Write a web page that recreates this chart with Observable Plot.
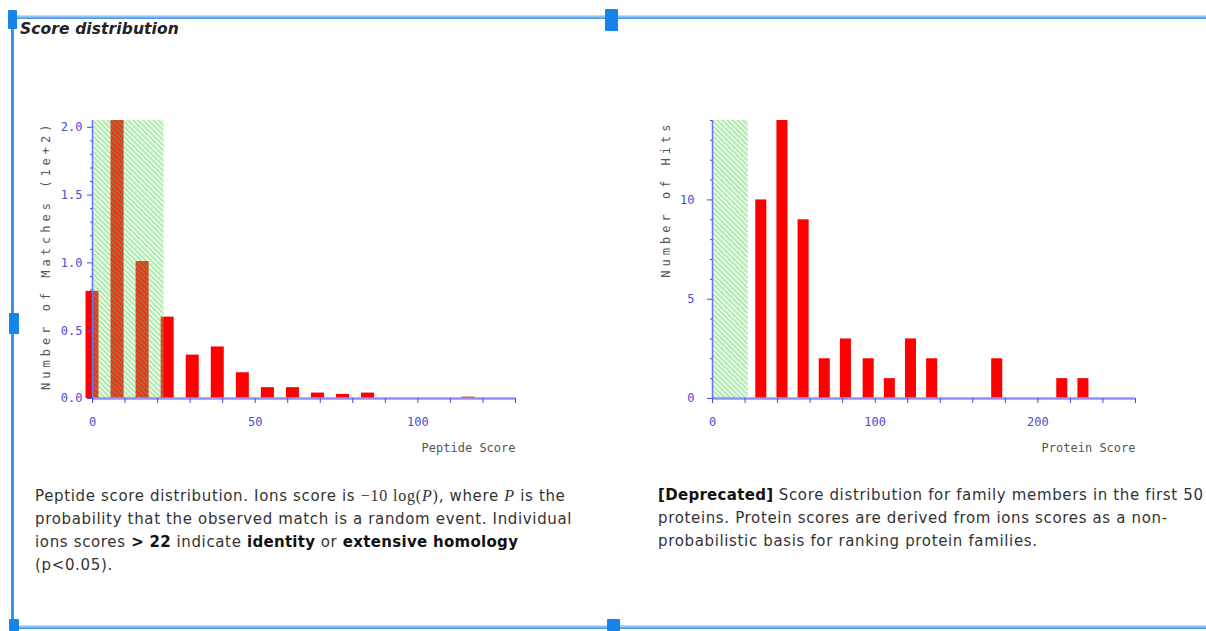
<!DOCTYPE html>
<html>
<head>
<meta charset="utf-8">
<script src="https://cdn.jsdelivr.net/npm/d3@7"></script>
<script src="https://cdn.jsdelivr.net/npm/@observablehq/plot@0.6"></script>
<style>
  html, body { margin: 0; padding: 0; background: #fff; }
  body { width: 1206px; height: 631px; position: relative; overflow: hidden; font-family: "DejaVu Sans", Verdana, sans-serif; }
  .bar-h { position: absolute; height: 4px; background: linear-gradient(#cfe6ff, #3a8fe0); }
  .bar-v { position: absolute; width: 3px; background: #3a95e8; }
  .handle { position: absolute; background: #1784ec; border-radius: 1px; }
  #title { position: absolute; left: 20px; top: 20px; font-weight: bold; font-style: italic; font-size: 15.5px; color: #222; letter-spacing: 0.1px; }
  .chart { position: absolute; }
  .caption { position: absolute; font-size: 15px; line-height: 23px; color: #333; letter-spacing: 0.65px; white-space: nowrap; }
  .caption b { color: #111; letter-spacing: 0.3px; }
  .ser { font-family: "Liberation Serif", serif; font-size: 16px; letter-spacing: 0.8px; }
  svg text[transform*="rotate(-90"] { letter-spacing: 4px; }
</style>
</head>
<body>
<svg width="0" height="0" style="position:absolute">
  <defs>
    <pattern id="hatch" patternUnits="userSpaceOnUse" width="3.6" height="3.6" patternTransform="rotate(-45)">
      <rect width="3.6" height="3.6" fill="rgba(150,235,150,0.22)"></rect>
      <line x1="0.8" y1="0" x2="0.8" y2="3.6" stroke="rgba(70,195,70,0.45)" stroke-width="1.4"></line>
    </pattern>
  </defs>
</svg>

<div class="bar-h" style="left:12px; top:15px; width:1194px;"></div>
<div class="bar-h" style="left:12px; top:625px; width:1194px;"></div>
<div class="bar-v" style="left:11px; top:17px; height:612px;"></div>
<div class="handle" style="left:8px; top:10px; width:9px; height:19px;"></div>
<div class="handle" style="left:605px; top:9px; width:13px; height:22px;"></div>
<div class="handle" style="left:9px; top:313px; width:10px; height:21px;"></div>
<div class="handle" style="left:9px; top:619px; width:10px; height:12px;"></div>
<div class="handle" style="left:607px; top:619px; width:13px; height:12px;"></div>

<div id="title">Score distribution</div>
<div id="left" class="chart" style="left:20px; top:100px;"></div>
<div id="right" class="chart" style="left:640px; top:100px;"></div>

<div class="caption" style="left:35px; top:484px;">
Peptide score distribution. Ions score is <span class="ser">−10 log(<i>P</i>)</span>, where <span class="ser"><i>P</i></span> is the<br>
probability that the observed match is a random event. Individual<br>
ions scores <b>&gt; 22</b> indicate <b>identity</b> or <b>extensive homology</b><br>
(p&lt;0.05).
</div>
<div class="caption" style="left:658px; top:484px;">
<b>[Deprecated]</b> Score distribution for family members in the first 50<br>
proteins. Protein scores are derived from ions scores as a non-<br>
probabilistic basis for ranking protein families.
</div>

<script>
// ---- Data ----
// Peptide score histogram: bin centres and number of matches (in units of 1e+2)
const peptideScores  = [0, 7.7, 15.4, 23.1, 30.8, 38.5, 46.2, 53.9, 61.6, 69.3, 77.0, 84.7, 115.5];
const peptideMatches = [0.79, 2.05, 1.01, 0.6, 0.32, 0.38, 0.19, 0.08, 0.08, 0.04, 0.03, 0.04, 0.01];
// Protein score histogram: bin centres and number of hits
const proteinScores = [30, 43, 56, 69, 82, 96, 109, 122, 135, 175, 215, 228];
const proteinHits   = [10, 14, 9, 2, 3, 2, 1, 3, 2, 2, 1, 1];

// Significance threshold (identity) shaded in green
const threshold = 22;

// Axes extents and tick values
const peptideXDomain = [0, 130];
const peptideYDomain = [0, 2.05];
const proteinXDomain = [0, 260];
const proteinYDomain = [0, 14];
const peptideXTicks = [0, 10, 20, 30, 40, 50, 60, 70, 80, 90, 100, 110, 120, 130];
const peptideXLabels = [0, 50, 100];
const peptideYTicks = [0, 0.5, 1.0, 1.5, 2.0];
const peptideYMinor = [0.1, 0.2, 0.3, 0.4, 0.6, 0.7, 0.8, 0.9, 1.1, 1.2, 1.3, 1.4, 1.6, 1.7, 1.8, 1.9];
const proteinXTicks = [0, 20, 40, 60, 80, 100, 120, 140, 160, 180, 200, 220, 240, 260];
const proteinXLabels = [0, 100, 200];
const proteinYTicks = [0, 5, 10];
const proteinYMinor = [1, 2, 3, 4, 6, 7, 8, 9, 11, 12, 13, 14];

const peptideXLabel = "Peptide Score";
const peptideYLabel = "Number of Matches (1e+2)";
const proteinXLabel = "Protein Score";
const proteinYLabel = "Number of Hits";

const pep = peptideScores.map((s, i) => ({score: s, value: peptideMatches[i]}));
const prot = proteinScores.map((s, i) => ({score: s, value: proteinHits[i]}));

const tickColor = "#4b4bd6";
const axisColor = "#9090ff";
const barColor = "#ff0000";

function histogram(data, opts) {
  const {xDomain, yDomain, xTicks, xLabels, yTicks, yMinor, yFormat, halfWidth, xLabel, yLabel, yPad} = opts;
  const shade = [{x1: 0, x2: threshold, y1: 0, y2: yDomain[1]}];
  return Plot.plot({
    width: 520, height: 370,
    marginLeft: 72, marginRight: 25, marginTop: 20, marginBottom: 72,
    x: {domain: xDomain},
    y: {domain: yDomain},
    style: {fontFamily: "DejaVu Sans Mono, monospace", fontSize: "12px", background: "transparent", overflow: "visible"},
    marks: [
      Plot.rectY(data, {x1: d => d.score - halfWidth, x2: d => d.score + halfWidth, y: "value", fill: barColor}),
      Plot.rect(shade, {x1: "x1", x2: "x2", y1: "y1", y2: "y2", fill: "url(#hatch)"}),
      Plot.ruleY([0], {x1: () => xDomain[0], x2: () => xDomain[1], stroke: axisColor, strokeWidth: 2.5}),
      Plot.ruleX([0], {y1: () => yDomain[0], y2: () => yDomain[1], stroke: "#6672ff", strokeWidth: 1.5}),
      Plot.axisX({ticks: xTicks, tickSize: 5, tickPadding: 14, color: tickColor, label: null,
        tickFormat: d => xLabels.includes(d) ? String(d) : ""}),
      Plot.axisY({ticks: yTicks, tickSize: 5, tickPadding: yPad, color: tickColor, label: null, tickFormat: yFormat}),
      Plot.axisY({ticks: yMinor, tickSize: 2, color: tickColor, label: null, tickFormat: () => ""}),
      Plot.text([xLabel], {frameAnchor: "bottom-right", dy: 50, textAnchor: "end", lineAnchor: "middle", fill: "#555"}),
      Plot.text([yLabel], {frameAnchor: "top-left", rotate: -90, dx: -46, textAnchor: "end", lineAnchor: "middle", fill: "#555"})
    ]
  });
}

document.getElementById("left").append(histogram(pep, {
  xDomain: peptideXDomain, yDomain: peptideYDomain, xTicks: peptideXTicks, xLabels: peptideXLabels,
  yTicks: peptideYTicks, yMinor: peptideYMinor, yFormat: d3.format(".1f"), halfWidth: 2.0,
  xLabel: peptideXLabel, yLabel: peptideYLabel, yPad: 5
}));

document.getElementById("right").append(histogram(prot, {
  xDomain: proteinXDomain, yDomain: proteinYDomain, xTicks: proteinXTicks, xLabels: proteinXLabels,
  yTicks: proteinYTicks, yMinor: proteinYMinor, yFormat: d => String(d), halfWidth: 3.4,
  xLabel: proteinXLabel, yLabel: proteinYLabel, yPad: 13
}));
</script>
</body>
</html>
